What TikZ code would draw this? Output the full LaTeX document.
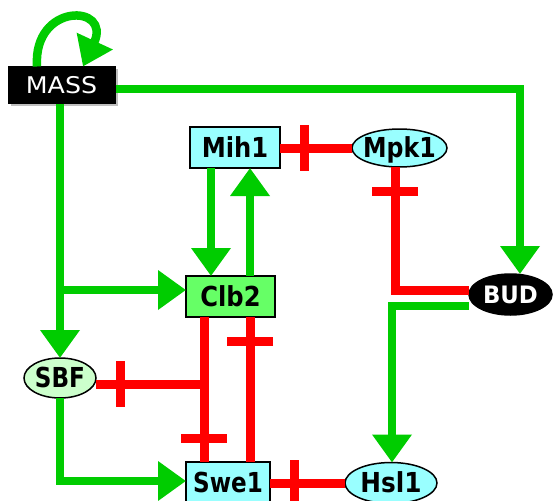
\documentclass[tikz,border=0pt]{standalone}
\usepackage{fontspec}
\setmainfont{DejaVu Sans}
\usetikzlibrary{arrows.meta,shapes.geometric,decorations.markings,shadows}
\definecolor{actgreen}{HTML}{00CC00}
\definecolor{inhred}{HTML}{FF0000}
\definecolor{cyanfill}{HTML}{99FFFF}
\definecolor{clbfill}{HTML}{66FF66}
\definecolor{sbffill}{HTML}{CCFFCC}
\newcommand\ctext[2][0.88]{\makebox[0pt]{\raisebox{-0.36em}[0pt][0pt]{\scalebox{#1}[1]{#2}}}}
\begin{document}
\begin{tikzpicture}[x=1pt,y=-1pt,
  nodebase/.style={draw=black, line width=1.5pt, inner sep=0pt, outer sep=0pt,
    font=\fontsize{27.5}{30}\selectfont\bfseries},
  boxnode/.style={nodebase, rectangle},
  ellnode/.style={nodebase, ellipse},
  act/.style={draw=actgreen, line width=8.5pt,
    -{Triangle[width=38pt,length=28pt]}},
  inh/.style={draw=inhred, line width=9pt,
    postaction={decorate},
    decoration={markings,
      mark=at position -24pt with {\draw[inhred,line width=9pt] (0,-23pt)--(0,23pt);}}}
]
\useasboundingbox (0,0) rectangle (556,500);

% nodes
\node[rectangle, fill=black, draw=black, line width=1pt, inner sep=0pt,
  minimum width=107pt, minimum height=37pt, text=white,
  font=\fontsize{23}{26}\selectfont,
  drop shadow={shadow xshift=2.5pt, shadow yshift=-2.5pt, fill=black!25, opacity=1}]
  (MASS) at (61.5,85.5) {\ctext[1.1]{MASS}};
\node[boxnode, fill=cyanfill, minimum width=90pt, minimum height=41pt]
  (Mih1) at (235,147.5) {\ctext{Mih1}};
\node[ellnode, fill=cyanfill, minimum width=95pt, minimum height=38pt]
  (Mpk1) at (399.5,148) {\ctext[0.86]{Mpk1}};
\node[boxnode, fill=clbfill, minimum width=89pt, minimum height=41pt]
  (Clb2) at (230.5,296.5) {\ctext{Clb2}};
\node[ellnode, fill=black, text=white, minimum width=83pt, minimum height=41pt,
  font=\fontsize{24}{28}\selectfont\bfseries]
  (BUD) at (510.5,294.5) {\ctext[0.95]{BUD}};
\node[ellnode, fill=sbffill, minimum width=72pt, minimum height=40pt]
  (SBF) at (60,378) {\ctext[0.84]{SBF}};
\node[boxnode, fill=cyanfill, minimum width=84pt, minimum height=41pt]
  (Swe1) at (228,482.5) {\ctext[0.84]{Swe1}};
\node[ellnode, fill=cyanfill, minimum width=92pt, minimum height=41pt]
  (Hsl1) at (391,483) {\ctext[0.9]{Hsl1}};

% activations
\draw[act] (37,0 |- MASS.north) .. controls (33,2) and (112,4) .. (83,0 |- MASS.north);
\draw[act] (MASS.east |- 0,89) -- (520,89) -- (520,0 |- BUD.north);
\draw[act] (60,0 |- MASS.south) -- (60,290) -- (Clb2.west |- 0,290);
\draw[act] (60,0 |- MASS.south) -- (SBF.north);
\draw[act] (211,0 |- Mih1.south) -- (211,0 |- Clb2.north);
\draw[act] (250,0 |- Clb2.north) -- (250,0 |- Mih1.south);
\draw[act] (BUD.west |- 0,306) -- (392,306) -- (392,0 |- Hsl1.north);
\draw[act] (SBF.south) -- (60,481) -- (Swe1.west |- 0,481);

% inhibitions
\draw[inh] (Mpk1.west) -- (Mih1.east |- Mpk1.west);
\draw[inh] (BUD.west |- 0,290) -- (395,290) -- (395,0 |- Mpk1.south);
\draw[inh] (204,0 |- Clb2.south) -- (204,384) -- (SBF.east |- 0,384);
\draw[inh] (204,0 |- Clb2.south) -- (204,0 |- Swe1.north);
\draw[inh] (250,0 |- Swe1.north) -- (250,0 |- Clb2.south);
\draw[inh] (Hsl1.west) -- (Swe1.east |- Hsl1.west);
\end{tikzpicture}
\end{document}
